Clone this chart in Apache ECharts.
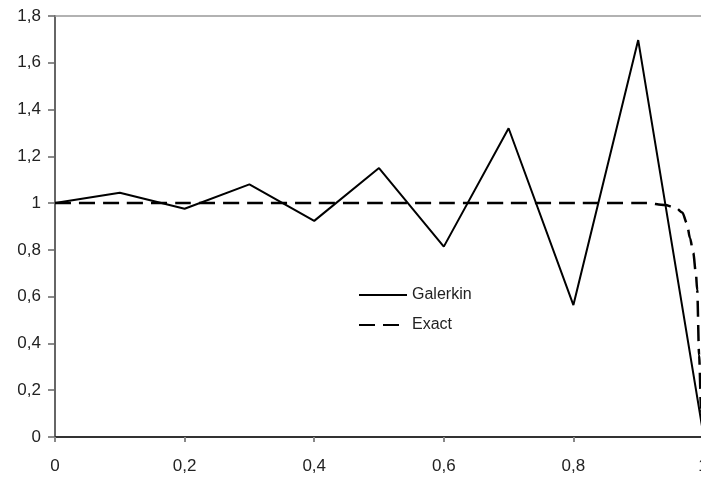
<!DOCTYPE html>
<html>
<head>
<meta charset="utf-8">
<script src="https://cdn.jsdelivr.net/npm/echarts@6/dist/echarts.min.js"></script>
<style>html,body{margin:0;padding:0;background:#fff;}#c{width:701px;height:481px;}</style>
</head>
<body>
<div id="c"></div>
<script>
var galerkinX = [0, 0.1, 0.2, 0.3, 0.4, 0.5, 0.6, 0.7, 0.8, 0.9, 1.0];
var galerkinY = [1.0, 1.044, 0.976, 1.08, 0.924, 1.15, 0.814, 1.32, 0.564, 1.697, 0.02];
var exactX = [0, 0.1, 0.2, 0.3, 0.4, 0.5, 0.6, 0.7, 0.8, 0.9, 0.913, 0.941, 0.958, 0.968, 0.975, 0.98, 0.985, 0.989, 0.991, 0.994, 0.997, 1.0];
var exactY = [1, 1, 1, 1, 1, 1, 1, 1, 1, 1, 1.0, 0.992, 0.98, 0.96, 0.915, 0.85, 0.787, 0.70, 0.63, 0.35, 0.12, 0];
var xTicks = [0, 0.2, 0.4, 0.6, 0.8, 1];
var yTicks = [0, 0.2, 0.4, 0.6, 0.8, 1, 1.2, 1.4, 1.6, 1.8];

function pairs(xs, ys) { return xs.map(function (x, i) { return [x, ys[i]]; }); }
function fmt(v) { return String(+v.toFixed(2)).replace('.', ','); }

var FONT = 'Liberation Sans';
var chart = echarts.init(document.getElementById('c'), null, { renderer: 'canvas' });
chart.setOption({
  animation: false,
  backgroundColor: '#fff',
  grid: { left: 55, top: 16, width: 648, height: 421, containLabel: false, outerBoundsMode: 'none' },
  legend: {
    orient: 'vertical', left: 358, top: 287, padding: 0, itemWidth: 48, itemHeight: 14, itemGap: 14,
    itemStyle: { opacity: 0 },
    textStyle: { fontFamily: FONT, fontSize: 16, color: '#222' },
    data: ['Galerkin', 'Exact']
  },
  xAxis: [{
    type: 'value', min: xTicks[0], max: xTicks[xTicks.length - 1], interval: 0.2,
    axisLine: { lineStyle: { color: '#333', width: 2 } },
    axisTick: { show: true, length: 5, lineStyle: { color: '#888', width: 2 } },
    axisLabel: { margin: 21, fontFamily: FONT, fontSize: 17, color: '#222', formatter: fmt },
    splitLine: { show: false }
  }, {
    type: 'value', position: 'top', min: 0, max: 1,
    axisLine: { show: true, lineStyle: { color: '#999', width: 1.5 } },
    axisTick: { show: false }, axisLabel: { show: false }, splitLine: { show: false }
  }],
  yAxis: {
    type: 'value', min: yTicks[0], max: yTicks[yTicks.length - 1], interval: 0.2,
    axisLine: { show: true, lineStyle: { color: '#666', width: 2 } },
    axisTick: { show: true, length: 7, lineStyle: { color: '#666', width: 1.5 } },
    axisLabel: { margin: 14, fontFamily: FONT, fontSize: 17, color: '#222', formatter: fmt },
    splitLine: { show: false }
  },
  series: [{
    name: 'Galerkin', type: 'line', xAxisIndex: 0, data: pairs(galerkinX, galerkinY),
    symbol: 'none', lineStyle: { color: '#000', width: 2 }, itemStyle: { color: '#000' }
  }, {
    name: 'Exact', type: 'line', xAxisIndex: 0, data: pairs(exactX, exactY), smooth: 0.3, smoothMonotone: 'x',
    symbol: 'none', lineStyle: { color: '#000', width: 2.5, type: [16, 8] }, itemStyle: { color: '#000' }
  }]
});
</script>
</body>
</html>
